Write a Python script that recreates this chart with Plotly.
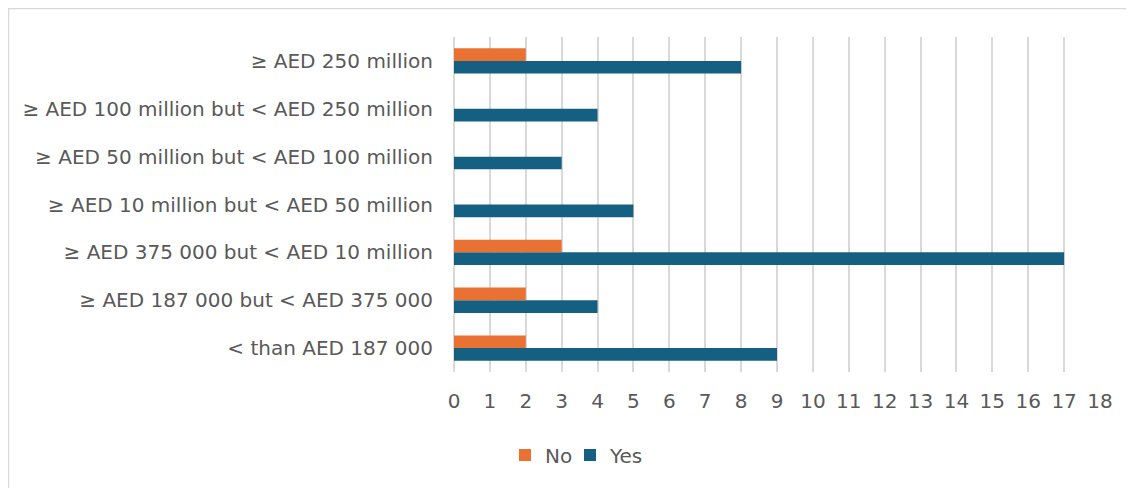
import plotly.graph_objects as go

categories = [
    "< than AED 187 000",
    "≥ AED 187 000 but < AED 375 000",
    "≥ AED 375 000 but < AED 10 million",
    "≥ AED 10 million but < AED 50 million",
    "≥ AED 50 million but < AED 100 million",
    "≥ AED 100 million but < AED 250 million",
    "≥ AED 250 million",
]
no_values = [2, 2, 3, 0, 0, 0, 2]
yes_values = [9, 4, 17, 5, 3, 4, 8]
x_ticks = list(range(0, 19))

BLUE = "#156082"
ORANGE = "#E97132"
TEXT = "#595959"
GRID = "#d9d9d9"
FONT = "DejaVu Sans"
FS = 20

# page body has an 8px margin: the figure origin sits at page (8, 8)
OFF = 8
W, H = 1134 - OFF, 488 - OFF
L, R, T, B = 454 - OFF, 1100 - OFF, 37 - OFF, 372 - OFF
pw, ph = R - L, B - T


def px_x(px):
    return (px - OFF - L) / pw


def px_y(py):
    return (B - (py - OFF)) / ph


fig = go.Figure()
fig.add_trace(go.Bar(
    y=categories, x=yes_values, name="Yes", orientation="h",
    marker=dict(color=BLUE, line=dict(width=0)), legend="legend2",
))
fig.add_trace(go.Bar(
    y=categories, x=no_values, name="No", orientation="h",
    marker=dict(color=ORANGE, line=dict(width=0)), legend="legend",
))

legend_common = dict(
    orientation="h", xref="container", yref="container",
    xanchor="left", y=1 - (455 - OFF) / H, yanchor="middle",
    font=dict(family=FONT, size=FS, color=TEXT),
    bgcolor="rgba(0,0,0,0)",
)

fig.update_layout(
    width=W, height=H,
    margin=dict(l=L, r=W - R, t=T, b=H - B, autoexpand=False),
    paper_bgcolor="white", plot_bgcolor="white",
    barmode="group", bargap=0.47, bargroupgap=0,
    font=dict(family=FONT, size=FS, color=TEXT),
    showlegend=True,
    legend=dict(x=(505 - OFF) / W, **legend_common),
    legend2=dict(x=(570 - OFF) / W, **legend_common),
    xaxis=dict(
        range=[0, 18], tickvals=x_ticks, ticktext=[str(v) for v in x_ticks],
        showgrid=True, gridcolor=GRID, gridwidth=1.5,
        zeroline=True, zerolinecolor=GRID, zerolinewidth=1.5,
        showline=False, ticks="", ticklabelstandoff=15,
        tickfont=dict(family=FONT, size=FS, color=TEXT),
        fixedrange=True,
    ),
    yaxis=dict(
        categoryorder="array", categoryarray=categories,
        showgrid=False, zeroline=False, showline=False, ticks="",
        ticklabelstandoff=20,
        tickfont=dict(family=FONT, size=FS, color=TEXT),
        automargin=False, fixedrange=True,
    ),
    shapes=[dict(
        type="rect", xref="paper", yref="paper",
        x0=px_x(8.5), x1=px_x(1180),
        y0=px_y(540), y1=px_y(8.5),
        line=dict(color=GRID, width=1.5), fillcolor="rgba(0,0,0,0)",
        layer="below",
    )],
)

fig.write_html("out.html")
